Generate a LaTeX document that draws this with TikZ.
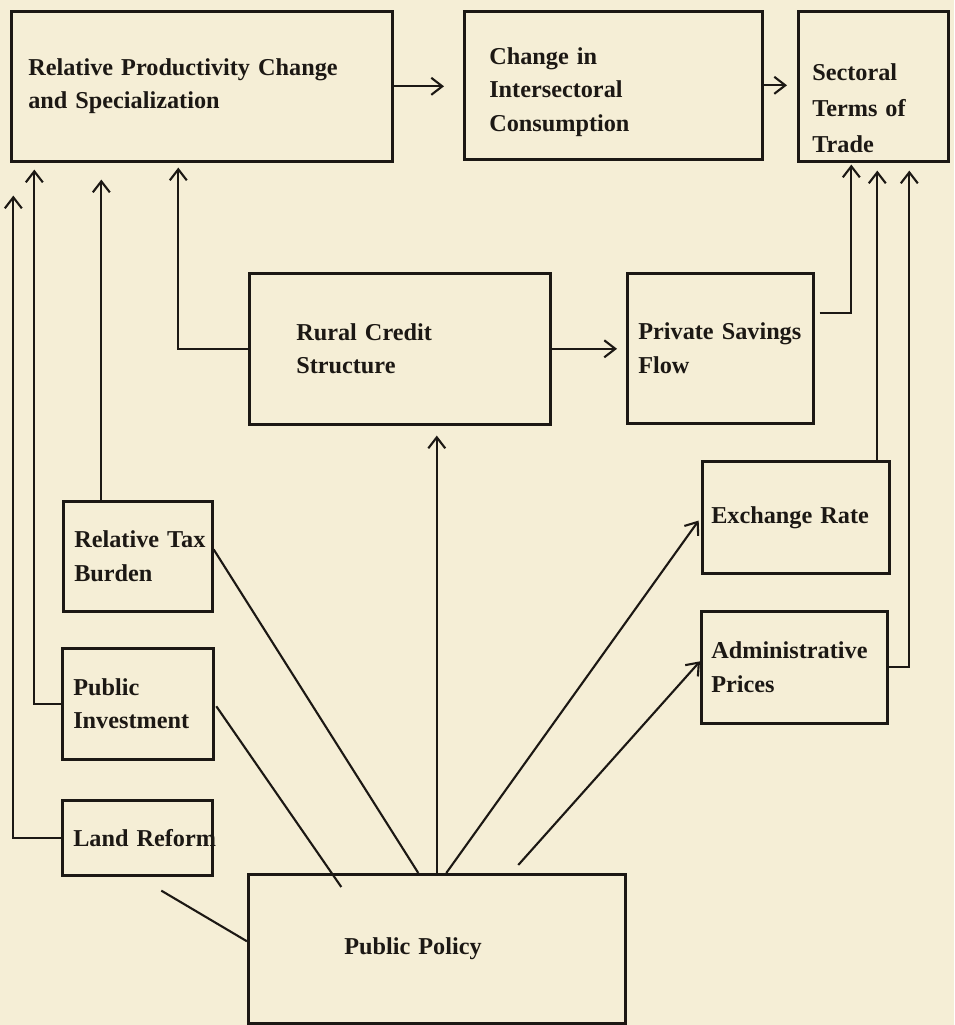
\documentclass[tikz,border=0pt]{standalone}
\usepackage{fontspec}
\setmainfont{Liberation Serif}
\usetikzlibrary{arrows.meta}
\hyphenpenalty=10000
\exhyphenpenalty=10000
\definecolor{paper}{RGB}{245,238,214}
\definecolor{ink}{RGB}{28,24,20}
\tikzset{
  box/.style={draw=ink, line width=1.5pt, anchor=north west, align=left, inner ysep=0pt, text=ink,
    font=\bfseries\fontsize{13.8}{19}\selectfont},
  arr/.style={draw=ink, line width=1.2pt, -{Straight Barb[length=0.22cm,width=0.34cm,line width=1.2pt]}},
  link/.style={draw=ink, line width=1.2pt}
}
\begin{document}
\begin{tikzpicture}[x=0.02cm,y=-0.02cm]
		\fill[paper] (0,0) rectangle (954,1025);
		\node[box, minimum width=7.62cm, minimum height=3cm, text width=6.94cm, inner xsep=0.34cm] (rpc) at (10,10) {Relative~Productivity~Change\\and~Specialization};
		\node[box, minimum width=5.96cm, minimum height=2.96cm, text width=4.96cm, inner xsep=0.5cm] (cic) at (463,10) {\rule{0pt}{0.6cm}Change~in\\Intersectoral\\Consumption};
		\node[box, minimum width=3cm, minimum height=3cm, text width=2.44cm, inner xsep=0.28cm, font=\bfseries\fontsize{13.8}{20.5}\selectfont] (stt) at (797,10) {\rule{0pt}{1.2cm}Sectoral\\Terms~of\\Trade};
		\node[box, minimum width=6.02cm, minimum height=3.02cm, text width=4.14cm, inner xsep=0.94cm] (rcs) at (248,272) {Rural~Credit\\Structure};
		\node[box, minimum width=3.72cm, minimum height=3cm, text width=3.28cm, inner xsep=0.22cm] (psf) at (626,272) {Private~Savings\\Flow};
		\node[box, minimum width=3.74cm, minimum height=2.24cm, text width=3.38cm, inner xsep=0.18cm] (exr) at (701,460) {Exchange~Rate};
		\node[box, minimum width=3.72cm, minimum height=2.24cm, text width=3.32cm, inner xsep=0.2cm] (adm) at (700,610) {Administrative\\Prices};
		\node[box, minimum width=2.98cm, minimum height=2.2cm, text width=2.54cm, inner xsep=0.22cm] (tax) at (62,500) {Relative~Tax\\Burden};
		\node[box, minimum width=3.02cm, minimum height=2.22cm, text width=2.58cm, inner xsep=0.22cm] (pin) at (61,647) {Public\\Investment};
		\node[box, minimum width=3cm, minimum height=1.5cm, text width=2.56cm, inner xsep=0.22cm] (lnd) at (61,799) {Land~Reform};
		\node[box, minimum width=7.54cm, minimum height=2.98cm, text width=3.7cm, inner xsep=1.92cm] (pp) at (247,873) {Public~Policy};
		\draw[arr, shorten >=0.38cm] (rpc.east) -- (rpc.east -| cic.west);
		\draw[arr, shorten >=0.2cm] (cic.east) -- (cic.east -| stt.west);
		\draw[arr, shorten >=0.18cm] (rcs.east) -- (rcs.east -| psf.west);
		\draw[arr, shorten <=0.1cm, shorten >=0.04cm] ([yshift=0.7cm]psf.east) -| ([xshift=-0.44cm]stt.south);
		\draw[arr, shorten >=0.16cm] ([xshift=1.63cm]exr.north) -- ([xshift=1.63cm]exr.north |- stt.south);
		\draw[arr, shorten >=0.16cm] (adm.east) -| ([xshift=0.72cm]stt.south);
		\draw[arr, shorten >=0.1cm] (rcs.west) -| ([xshift=-0.47cm]rpc.south);
		\draw[arr, shorten >=0.34cm] ([xshift=-0.73cm]tax.north) -- ([xshift=-0.73cm]tax.north |- rpc.south);
		\draw[arr, shorten >=0.14cm] (pin.west) -| ([xshift=-3.35cm]rpc.south);
		\draw[arr, shorten >=0.66cm] (lnd.west) -| ([xshift=-3.77cm]rpc.south);
		\draw[arr, shorten >=0.2cm] (pp.north) -- (pp.north |- rcs.south);
		\draw[link] ([yshift=0.14cm]tax.east) -- ([xshift=-0.37cm]pp.north);
		\draw[link, shorten <=0.06cm] (pin.east) -- ([xshift=-1.91cm,yshift=-0.28cm]pp.north);
		\draw[link] ([xshift=0.48cm,yshift=-0.28cm]lnd.south) -- ([yshift=0.15cm]pp.west);
		\draw[arr, shorten >=0.08cm] ([xshift=0.19cm]pp.north) -- (exr.west);
		\draw[arr] ([xshift=1.63cm,yshift=0.16cm]pp.north) -- ([yshift=0.12cm]adm.west);
	\end{tikzpicture}
\end{document}
